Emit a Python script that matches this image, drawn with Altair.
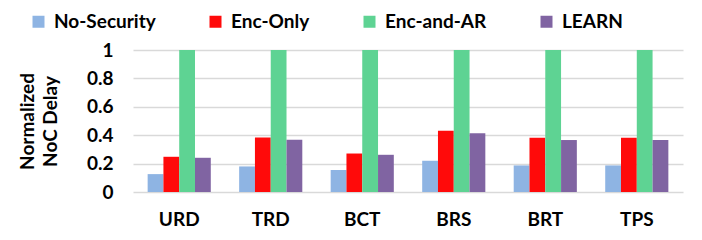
import altair as alt
import pandas as pd

benchmarks = ["URD", "TRD", "BCT", "BRS", "BRT", "TPS"]
series = ["No-Security", "Enc-Only", "Enc-and-AR", "LEARN"]
no_security = [0.126, 0.18, 0.155, 0.22, 0.187, 0.187]
enc_only = [0.248, 0.384, 0.271, 0.431, 0.382, 0.382]
enc_and_ar = [1.0, 1.0, 1.0, 1.0, 1.0, 1.0]
learn = [0.241, 0.368, 0.262, 0.414, 0.366, 0.366]
colors = ["#8EB4E3", "#FF0A0A", "#5ED393", "#8064A2"]

rows = []
for name, vals in zip(series, [no_security, enc_only, enc_and_ar, learn]):
    for b, v in zip(benchmarks, vals):
        rows.append({"bench": b, "series": name, "value": v})
df = pd.DataFrame(rows)

font = "Lato"

chart = alt.Chart(df).mark_bar().encode(
    x=alt.X("bench:N", sort=benchmarks, title=None,
            scale=alt.Scale(paddingInner=0.31, paddingOuter=0.16),
            axis=alt.Axis(labelAngle=0, labelFont=font, labelFontSize=19,
                          labelFontWeight="bold", labelColor="#000000",
                          labelPadding=18, ticks=False, domain=False)),
    xOffset=alt.XOffset("series:N", sort=series),
    y=alt.Y("value:Q", title=["Normalized", "NoC Delay"],
            scale=alt.Scale(domain=[0, 1]),
            axis=alt.Axis(values=[0, 0.2, 0.4, 0.6, 0.8, 1],
                          format="~g", labelFont=font, labelFontSize=19,
                          labelFontWeight="bold", labelColor="#000000",
                          labelPadding=20, ticks=False, domain=False,
                          gridColor="#D9D9D9", gridWidth=1.5,
                          titleFont=font, titleFontSize=19, titleFontWeight="bold",
                          titleColor="#000000", titlePadding=26,
                          titleLineHeight=23)),
    color=alt.Color("series:N", sort=series,
                    scale=alt.Scale(domain=series, range=colors),
                    legend=alt.Legend(title=None, orient="none", direction="horizontal",
                                      legendX=-104, legendY=-38,
                                      symbolType="square", symbolSize=144,
                                      symbolStrokeWidth=0,
                                      labelFont=font, labelFontSize=19,
                                      labelFontWeight="bold", labelColor="#000000",
                                      labelOffset=6, columnPadding=50)),
).properties(
    width=550, height=142,
    autosize=alt.AutoSizeParams(type="none"),
    padding={"left": 125, "top": 42, "right": 10, "bottom": 42},
).configure_view(stroke=None)

chart.save("out.html", embed_options={"renderer": "svg", "actions": False})
